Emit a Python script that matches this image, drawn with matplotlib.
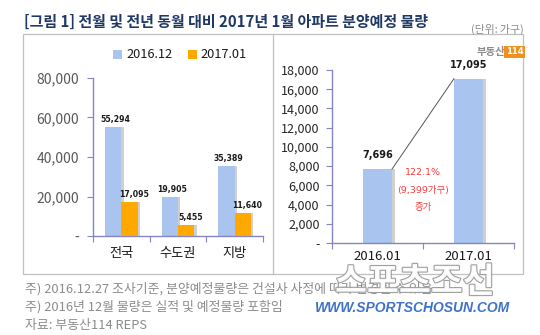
import matplotlib
matplotlib.use("Agg")
import matplotlib.pyplot as plt
import numpy as np
from matplotlib.patches import Rectangle
from matplotlib.lines import Line2D
import matplotlib.patheffects as pe

plt.rcParams['font.family'] = ['Noto Sans CJK KR', 'DejaVu Sans']

# ---- data ----
regions = ['전국', '수도권', '지방']
dec2016 = [55294, 19905, 35389]
jan2017 = [17095, 5455, 11640]
series_names = ['2016.12', '2017.01']

periods = ['2016.01', '2017.01']
jan_values = [7696, 17095]
change_text = ['122.1%', '(9,399가구)', '증가']

left_yticks = [0, 20000, 40000, 60000, 80000]
right_yticks = list(range(0, 18001, 2000))

title = '[그림 1] 전월 및 전년 동월 대비 2017년 1월 아파트 분양예정 물량'
unit = '(단위: 가구)'
notes = ['주) 2016.12.27 조사기준, 분양예정물량은 건설사 사정에 따라 변경될 수 있음',
         '주) 2016년 12월 물량은 실적 및 예정물량 포함임',
         '자료: 부동산114 REPS']

BLUE = '#a9c4ef'
ORANGE = '#ffa800'
AXC = '#8585c4'
SHADOW = '#d0d0d0'

W, H = 540, 335
fig = plt.figure(figsize=(W / 100, H / 100), dpi=100)

def fx(px):
    return px / W

def fy(py):
    return 1 - py / H

def fmt(v):
    return '-' if v == 0 else f'{v:,}'

# ---- frame ----
fig.add_artist(Rectangle((fx(23), fy(274)), fx(523) - fx(23), fy(34) - fy(274),
                         transform=fig.transFigure, fill=False, edgecolor='#c0c0c0', lw=0.9))
fig.add_artist(Line2D([fx(273), fx(273)], [fy(34), fy(274)], transform=fig.transFigure,
                      color='#c0c0c0', lw=0.9))

# ---- left chart ----
ax1 = fig.add_axes([fx(93), fy(236), fx(263) - fx(93), fy(78) - fy(236)])
x = np.arange(len(regions)) + 0.5
bw = 0.29
sh = 0.04
ax1.bar(x - bw / 2 + sh, dec2016, width=bw, color=SHADOW, zorder=1)
ax1.bar(x + bw / 2 + sh, jan2017, width=bw, color=SHADOW, zorder=1)
ax1.bar(x - bw / 2, dec2016, width=bw, color=BLUE, zorder=2, label=series_names[0])
ax1.bar(x + bw / 2, jan2017, width=bw, color=ORANGE, zorder=3, label=series_names[1])
for xi, v in zip(x, dec2016):
    ax1.text(xi - bw / 2 + 0.04, v + 1500, f'{v:,}', ha='center', va='bottom',
             fontsize=5.6, fontweight='bold', family='DejaVu Sans', color='#1a1a1a')
for xi, v in zip(x, jan2017):
    ax1.text(xi + bw / 2 + 0.08, v + 1500, f'{v:,}', ha='center', va='bottom',
             fontsize=5.6, fontweight='bold', family='DejaVu Sans', color='#1a1a1a')
ax1.set_xlim(0, len(regions))
ax1.set_ylim(0, 80000)
ax1.set_yticks(left_yticks)
ax1.set_yticklabels([fmt(v) for v in left_yticks], fontsize=10, color='#595959')
ax1.set_xticks(np.arange(len(regions) + 1))
ax1.set_xticklabels([])
ax1.set_xticks(x, minor=True)
ax1.set_xticklabels(regions, minor=True, fontsize=9.5, color='#1a1a1a')
ax1.tick_params(axis='x', which='minor', length=0, pad=8)
ax1.tick_params(axis='x', which='major', length=4, color=AXC, direction='out')
ax1.tick_params(axis='y', length=4, color=AXC, pad=6)
for s in ['top', 'right']:
    ax1.spines[s].set_visible(False)
for s in ['left', 'bottom']:
    ax1.spines[s].set_color(AXC)
    ax1.spines[s].set_linewidth(1.0)
ax1.set_facecolor('none')

handles, labels = ax1.get_legend_handles_labels()
fig.legend(handles, labels, loc='center', bbox_to_anchor=(fx(180), fy(55)), ncol=2,
           frameon=False, fontsize=9.2, handlelength=0.7, handleheight=0.7,
           handletextpad=0.3, columnspacing=1.2, labelcolor='#1a1a1a')

# ---- right chart ----
ax2 = fig.add_axes([fx(332), fy(243), fx(514) - fx(332), fy(70) - fy(243)])
x2 = np.arange(len(periods)) + 0.5
bw2 = 0.32
ax2.bar(x2 + 0.035, jan_values, width=bw2, color=SHADOW, zorder=1)
ax2.bar(x2, jan_values, width=bw2, color=BLUE, zorder=2)
for xi, v in zip(x2, jan_values):
    ax2.text(xi, v + 900, f'{v:,}', ha='center', va='bottom', fontsize=7,
             fontweight='bold', family='DejaVu Sans', color='#1a1a1a')
ax2.plot([x2[0] + bw2 / 2, x2[1] - bw2 / 2], jan_values, color='#555555', lw=0.7, zorder=3)
mid = (x2[0] + x2[1]) / 2
for txt, yv in zip(change_text, [7350, 5480, 3720]):
    ax2.text(mid, yv, txt, ha='center', va='center', fontsize=6.8, color='#ff3b3b',
             family=['DejaVu Sans', 'Noto Sans CJK KR'] if txt[0] != '증' else ['Noto Sans CJK KR'])
ax2.set_xlim(0, len(periods))
ax2.set_ylim(0, 18000)
ax2.set_yticks(right_yticks)
ax2.set_yticklabels([fmt(v) for v in right_yticks], fontsize=9, color='#262626')
ax2.set_xticks(np.arange(len(periods) + 1))
ax2.set_xticklabels([])
ax2.set_xticks(x2, minor=True)
ax2.set_xticklabels(periods, minor=True, fontsize=9.5, color='#1a1a1a')
ax2.tick_params(axis='x', which='minor', length=0, pad=5)
ax2.tick_params(axis='x', which='major', length=4, color=AXC, direction='out')
ax2.tick_params(axis='y', length=4, color=AXC, pad=5)
for s in ['top', 'right']:
    ax2.spines[s].set_visible(False)
for s in ['left', 'bottom']:
    ax2.spines[s].set_color(AXC)
    ax2.spines[s].set_linewidth(1.0)
ax2.set_facecolor('none')

# ---- titles, logo, notes ----
fig.text(fx(24), fy(22), title, fontsize=10.8, fontweight='bold', color='#1f3864',
         ha='left', va='center')
fig.text(fx(524), fy(29), unit, fontsize=7.8, color='#8c8c8c', ha='right', va='center')
fig.text(fx(505), fy(52), '부동산', fontsize=7.5, fontweight='bold', color='#8c8c8c',
         ha='right', va='center')
fig.text(fx(514.5), fy(52), '114', fontsize=6, fontweight='bold', color='white',
         ha='center', va='center', family='DejaVu Sans',
         bbox=dict(boxstyle='square,pad=0.15', fc='#f0901e', ec='none'))

for i, n in enumerate(notes):
    fig.text(fx(25), fy(289 + i * 18), n, fontsize=9.3, color='#8c8c8c',
             ha='left', va='center')

# watermark
fig.text(fx(415), fy(282), '스포츠조선', fontsize=25, fontweight='bold', color='white',
         ha='center', va='center', alpha=0.95,
         path_effects=[pe.withStroke(linewidth=1.6, foreground='#9a9a9a')])
fig.text(fx(413), fy(308), 'WWW.SPORTSCHOSUN.COM', fontsize=10, fontweight='bold',
         style='italic', color='#3f73c8', family='Liberation Sans', ha='center', va='center')

fig.savefig('out.png', dpi=100)
